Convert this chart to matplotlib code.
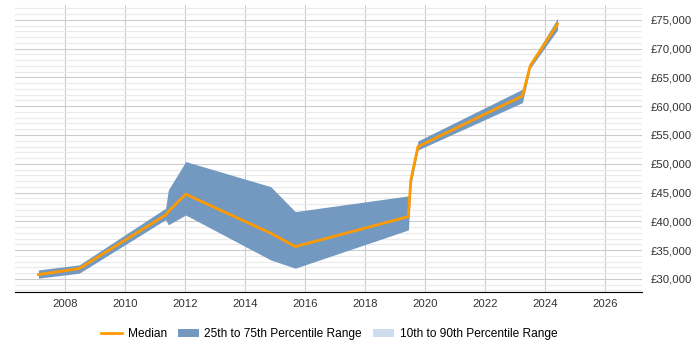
import matplotlib
matplotlib.use('Agg')
import matplotlib.pyplot as plt
from matplotlib.lines import Line2D
from matplotlib.patches import Patch
from matplotlib.ticker import MultipleLocator, FuncFormatter

plt.rcParams['font.family'] = ['Liberation Sans', 'DejaVu Sans']

# data
years = [2007.11, 2008.47, 2011.35, 2011.44, 2012.02, 2014.85, 2015.67,
         2019.44, 2019.52, 2019.76, 2023.24, 2023.5, 2024.41]
median = [30750, 31790, 41100, 41700, 44710, 37940, 35610,
          40820, 47200, 52980, 61790, 67050, 74290]
p25 = [30120, 30990, 40300, 39400, 41100, 33300, 31860,
       38510, 46200, 52400, 60630, 66600, 73250]
p75 = [31560, 32430, 42280, 45460, 50380, 46030, 41690,
       44420, 48360, 53970, 62950, 67470, 75280]

band_color = '#7399c0'
light_color = '#ccddee'
median_color = '#ff9900'

fig = plt.figure(figsize=(7, 3.5), dpi=100)
ax = fig.add_axes([0.0214, 0.166, 0.896, 0.82])

ax.fill_between(years, p25, p75, color=band_color, linewidth=0, zorder=2)
ax.plot(years, median, color=median_color, linewidth=2, zorder=3)

ax.set_xlim(2006.33, 2027.23)
ax.set_ylim(27740, 77600)
ax.xaxis.set_major_locator(MultipleLocator(2))
ax.yaxis.set_major_locator(MultipleLocator(5000))
ax.yaxis.set_minor_locator(MultipleLocator(1000))
ax.yaxis.set_major_formatter(FuncFormatter(lambda v, p: f'£{int(v):,}'))
ax.yaxis.tick_right()

ax.grid(axis='x', which='major', color='#cccccc', linewidth=0.8, zorder=0)
ax.grid(axis='y', which='major', color='#cccccc', linewidth=0.8, zorder=0)
ax.grid(axis='y', which='minor', color='#eaeaea', linewidth=0.8, zorder=0)
ax.set_axisbelow(True)

for s in ['top', 'left', 'right']:
    ax.spines[s].set_visible(False)
ax.spines['bottom'].set_color('#000000')
ax.tick_params(axis='y', which='both', length=0, labelsize=8.2, pad=6, colors='#333333')
ax.tick_params(axis='x', length=0, labelsize=8.2, pad=5, colors='#333333')

handles = [Line2D([0], [0], color=median_color, linewidth=2),
           Patch(facecolor=band_color),
           Patch(facecolor=light_color)]
labels = ['Median', '25th to 75th Percentile Range', '10th to 90th Percentile Range']
fig.legend(handles, labels, loc='center', bbox_to_anchor=(0.47, 0.045), ncol=3,
           frameon=False, fontsize=8.6, handlelength=1.8, handletextpad=0.45,
           columnspacing=0.9)

fig.savefig('out.png', dpi=100)
